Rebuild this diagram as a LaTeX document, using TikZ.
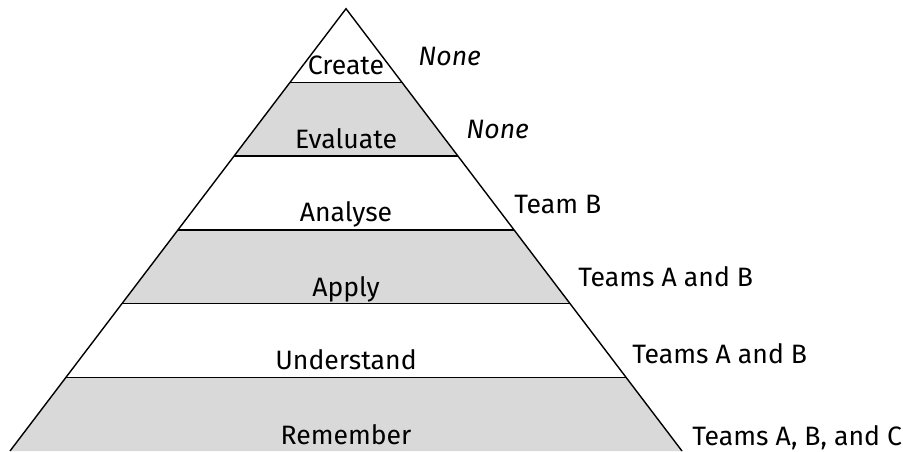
\documentclass[tikz,border=0pt]{standalone}
\usepackage{fontspec}
\setmainfont{Fira Sans}
\usetikzlibrary{calc,positioning}

\definecolor{bandgray}{RGB}{217,217,217}

\begin{document}
\begin{tikzpicture}
                [x=0.5pt,y=-0.5pt,
                 level/.style={anchor=base,font=\fontsize{13.3}{15}\selectfont},
                 who/.style={anchor=base west,inner sep=0pt,font=\fontsize{13.3}{15}\selectfont},
                 edge/.style={line width=0.7pt}]

                \useasboundingbox (0,0) rectangle (903,451);

                % corners of the pyramid
                \coordinate (top) at (346,8.7);
                \coordinate (bl)  at (10,451);
                \coordinate (br)  at (682,451);

                % shaded levels: Evaluate, Apply, Remember
                \fill[bandgray] ($(top)!1/6!(bl)$) -- ($(top)!1/6!(br)$) -- ($(top)!2/6!(br)$) -- ($(top)!2/6!(bl)$) -- cycle;
                \fill[bandgray] ($(top)!3/6!(bl)$) -- ($(top)!3/6!(br)$) -- ($(top)!4/6!(br)$) -- ($(top)!4/6!(bl)$) -- cycle;
                \fill[bandgray] ($(top)!5/6!(bl)$) -- ($(top)!5/6!(br)$) -- (br) -- (bl) -- cycle;

                % outline and level separators
                \draw[edge] (bl) -- (top) -- (br);
                \draw[edge] ($(top)!1/6!(bl)$) -- ($(top)!1/6!(br)$);
                \draw[edge] ($(top)!2/6!(bl)$) -- ($(top)!2/6!(br)$);
                \draw[edge] ($(top)!3/6!(bl)$) -- ($(top)!3/6!(br)$);
                \draw[edge] ($(top)!4/6!(bl)$) -- ($(top)!4/6!(br)$);
                \draw[edge] ($(top)!5/6!(bl)$) -- ($(top)!5/6!(br)$);

                % level names
                \node[level] (create)     at (346,74)  {Create};
                \node[level] (evaluate)   at (346,148) {Evaluate};
                \node[level] (analyse)    at (346,221) {Analyse};
                \node[level] (apply)      at (346,296) {Apply};
                \node[level] (understand) at (346,369) {Understand};
                \node[level] (remember)   at (346,444) {Remember};

                % who covers each level
                \node[who] (who create)     at (418,65)  {\itshape None};
                \node[who] (who evaluate)   at (466,138) {\itshape None};
                \node[who] (who analyse)    at (514,213) {Team B};
                \node[who] (who apply)      at (578,286) {Teams A and B};
                \node[who] (who understand) at (632,363) {Teams A and B};
                \node[who] (who remember)   at (692,445) {Teams A, B, and C};

            \end{tikzpicture}
\end{document}
